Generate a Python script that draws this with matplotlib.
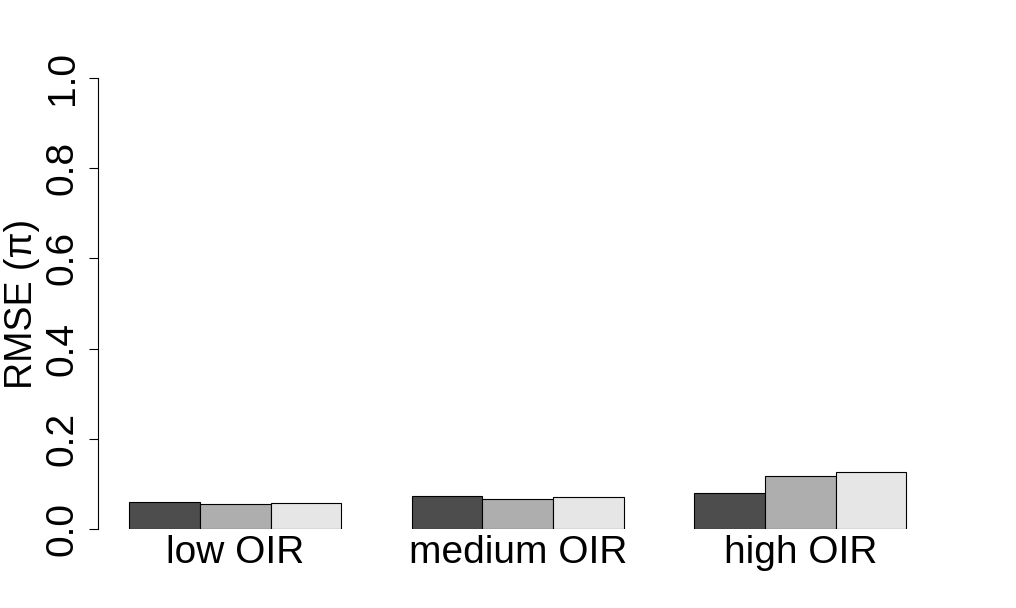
import numpy as np
import matplotlib
matplotlib.use("Agg")
import matplotlib.pyplot as plt

plt.rcParams['font.family'] = ['Liberation Sans', 'DejaVu Sans']

groups = ['low OIR', 'medium OIR', 'high OIR']
series_a = [0.059, 0.073, 0.079]
series_b = [0.055, 0.067, 0.117]
series_c = [0.057, 0.070, 0.126]
colors = ['#4D4D4D', '#AEAEAE', '#E6E6E6']
yticks = [0.0, 0.2, 0.4, 0.6, 0.8, 1.0]
ytick_labels = ['0.0', '0.2', '0.4', '0.6', '0.8', '1.0']

fig = plt.figure(figsize=(10.16, 6.08), dpi=100)
ax = fig.add_axes([98.2 / 1016, 79 / 608, (937.4 - 98.2) / 1016, 451 / 608])

n_groups = len(groups)
series = [series_a, series_b, series_c]
n_series = len(series)
group_start = 1 + np.arange(n_groups) * (n_series + 1)
for j, vals in enumerate(series):
    x = group_start + j
    ax.bar(x, vals, width=1.0, align='edge', color=colors[j],
           edgecolor='black', linewidth=0.8)

centers = group_start + n_series / 2
ax.set_xlim(0.56, 12.44)
ax.set_ylim(0, 1)

for s in ['top', 'right', 'bottom']:
    ax.spines[s].set_visible(False)
ax.spines['left'].set_bounds(0, 1)
ax.spines['left'].set_linewidth(0.8)

ax.set_xticks(centers)
ax.set_xticklabels(groups, fontsize=28)
ax.tick_params(axis='x', length=0, pad=4)

ax.set_yticks(yticks)
ax.set_yticklabels(ytick_labels, fontsize=28, rotation=90, va='center', ha='center')
ax.tick_params(axis='y', length=6.5, width=0.8, pad=19)

ax.set_ylabel('RMSE (π)', fontsize=27, va='center', ha='center')
ax.yaxis.set_label_coords((22 - 98.2) / 838.2, 0.5)

fig.savefig('out.png', dpi=100)
